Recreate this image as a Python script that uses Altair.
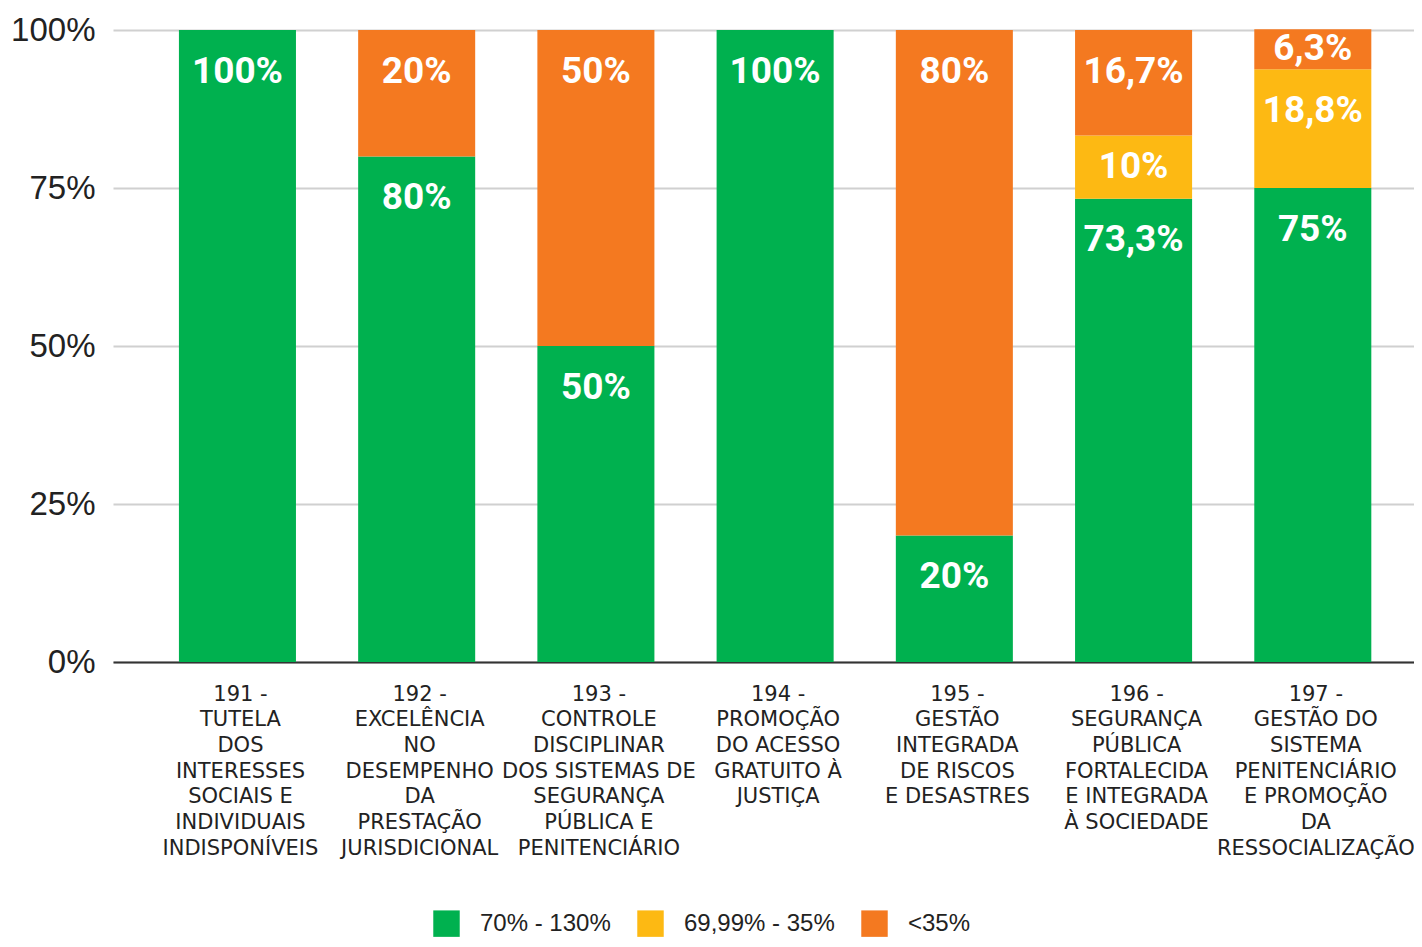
import altair as alt
import pandas as pd

categories = [
    "191 -|TUTELA|DOS|INTERESSES|SOCIAIS E|INDIVIDUAIS|INDISPONÍVEIS",
    "192 -|EXCELÊNCIA|NO|DESEMPENHO|DA|PRESTAÇÃO|JURISDICIONAL",
    "193 -|CONTROLE|DISCIPLINAR|DOS SISTEMAS DE|SEGURANÇA|PÚBLICA E|PENITENCIÁRIO",
    "194 -|PROMOÇÃO|DO ACESSO|GRATUITO À|JUSTIÇA",
    "195 -|GESTÃO|INTEGRADA|DE RISCOS|E DESASTRES",
    "196 -|SEGURANÇA|PÚBLICA|FORTALECIDA|E INTEGRADA|À SOCIEDADE",
    "197 -|GESTÃO DO|SISTEMA|PENITENCIÁRIO|E PROMOÇÃO|DA|RESSOCIALIZAÇÃO",
]
series = ["70% - 130%", "69,99% - 35%", "<35%"]
green = [100, 80, 50, 100, 20, 73.3, 75]
yellow = [0, 0, 0, 0, 0, 10, 18.8]
orange = [0, 20, 50, 0, 80, 16.7, 6.3]
colors = ["#00B14F", "#FDB913", "#F47920"]

rows = []
for i, c in enumerate(categories):
    for k, (s, vals) in enumerate(zip(series, [green, yellow, orange])):
        v = vals[i]
        if v > 0:
            rows.append({"cat": c, "serie": s, "value": v, "ord": k,
                         "label": f"{v:g}".replace(".", ",") + "%"})
df = pd.DataFrame(rows)

x_enc = alt.X("cat:N", sort=categories, title=None,
              scale=alt.Scale(paddingInner=0.347, paddingOuter=0.303, align=0.607),
              axis=alt.Axis(labelAngle=0, labelExpr="split(datum.label, '|')",
                            labelFont="DejaVu Sans", labelFontSize=21, labelColor="#222222",
                            labelLineHeight=25.7, labelPadding=21, labelBaseline="top",
                            labelOffset=3,
                            ticks=False, domainColor="#333333", domainWidth=2,
                            labelLimit=300, grid=False))

base = alt.Chart(df).transform_stack(
    stack="value", groupby=["cat"], as_=["y0", "y1"],
    sort=[alt.SortField("ord", order="ascending")]
)

bars = base.mark_bar().encode(
    x=x_enc,
    y=alt.Y("y1:Q", title=None,
            scale=alt.Scale(domain=[0, 100], nice=False),
            axis=alt.Axis(values=[0, 25, 50, 75, 100], labelExpr="datum.value + '%'",
                          labelFont="Liberation Sans", labelFontSize=33, labelColor="#222222",
                          labelPadding=18, ticks=False, domain=False,
                          gridColor="#d0d0d0", gridWidth=2)),
    y2="y0:Q",
    color=alt.Color("serie:N", sort=series,
                    scale=alt.Scale(domain=series, range=colors),
                    legend=alt.Legend(title=None, orient="none", direction="horizontal",
                                      legendX=320, legendY=880,
                                      symbolType="square", symbolSize=700,
                                      symbolStrokeWidth=0, symbolOpacity=1,
                                      labelFont="Liberation Sans", labelFontSize=24,
                                      labelColor="#222222", labelOffset=20,
                                      columnPadding=26)),
)

labels = base.transform_calculate(
    ly="datum.y1 - min(6.6, (datum.y1 - datum.y0) / 2)"
).mark_text(color="white", font="Roboto", fontWeight="bold", fontSize=37,
            baseline="middle", align="center").encode(
    x=alt.X("cat:N", sort=categories),
    y=alt.Y("ly:Q"),
    text="label:N",
)

chart = alt.layer(bars, labels).properties(
    width=1301, height=632,
    autosize=alt.AutoSizeParams(type="none"),
    padding={"left": 105, "top": 22, "right": 0, "bottom": 277},
).configure_view(stroke=None)

chart.save("out.html", embed_options={"renderer": "svg", "actions": False})
